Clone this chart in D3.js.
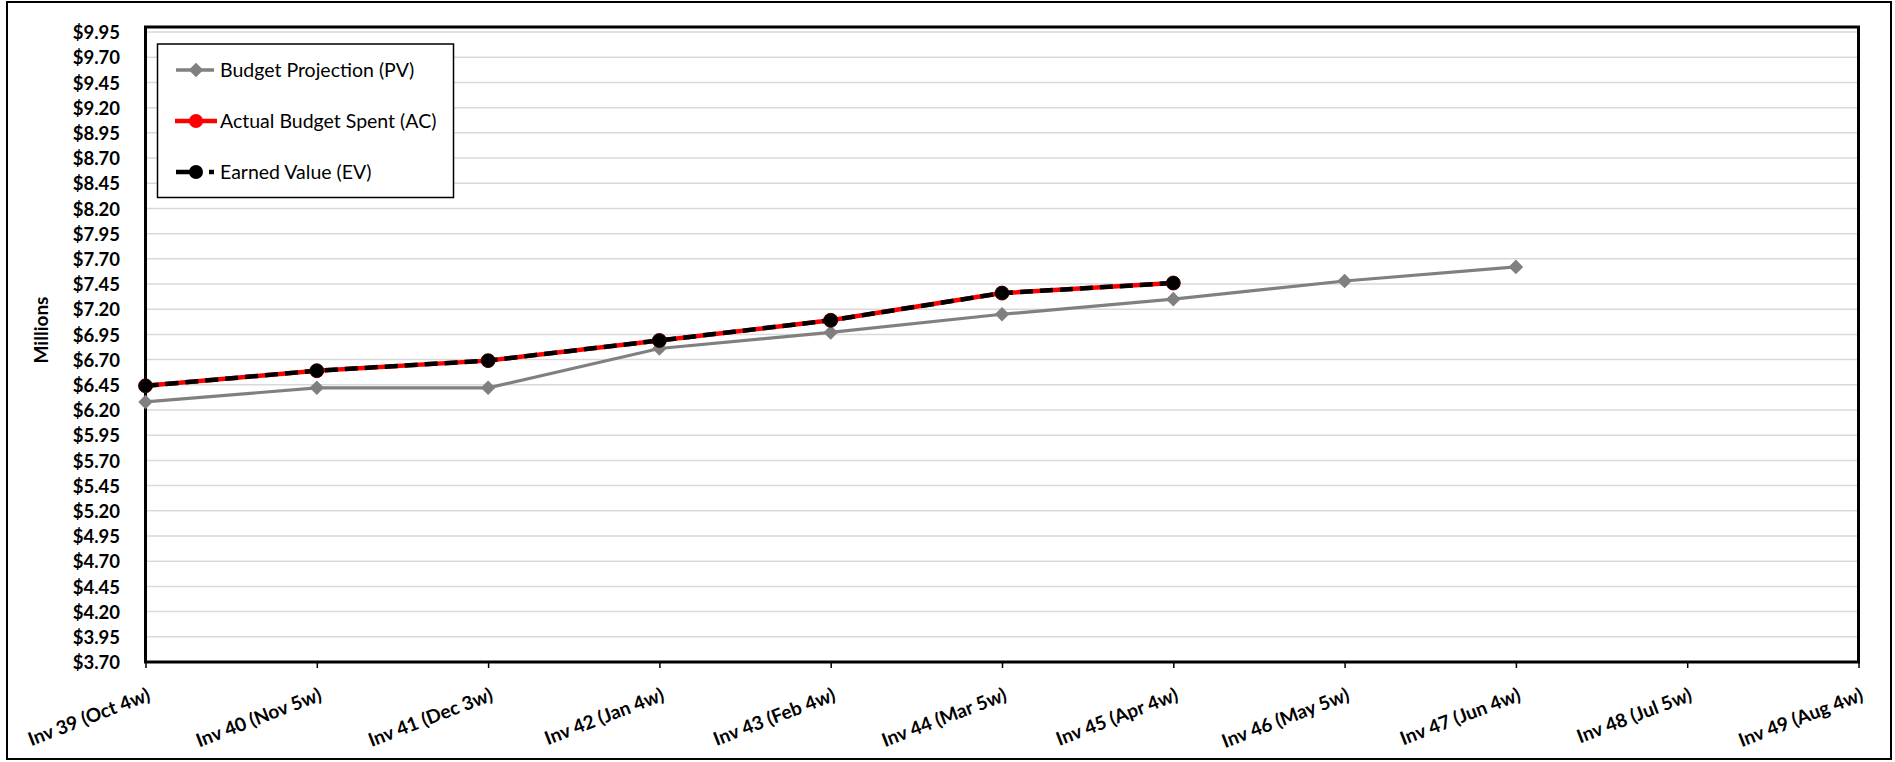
<!DOCTYPE html>
<html>
<head>
<meta charset="utf-8">
<script src="https://cdn.jsdelivr.net/npm/d3@7"></script>
<style>
  html, body { margin: 0; padding: 0; background: #fff; }
  svg { display: block; }
  text { font-family: Lato, "Open Sans", sans-serif; }
</style>
</head>
<body>
<svg id="chart" width="1895" height="762"></svg>
<script>
// ---- data ----
const categories = ["Inv 39 (Oct 4w)", "Inv 40 (Nov 5w)", "Inv 41 (Dec 3w)", "Inv 42 (Jan 4w)",
  "Inv 43 (Feb 4w)", "Inv 44 (Mar 5w)", "Inv 45 (Apr 4w)", "Inv 46 (May 5w)",
  "Inv 47 (Jun 4w)", "Inv 48 (Jul 5w)", "Inv 49 (Aug 4w)"];
const pvValues = [6.28, 6.42, 6.42, 6.81, 6.97, 7.15, 7.30, 7.48, 7.62];
const acValues = [6.44, 6.59, 6.69, 6.89, 7.09, 7.36, 7.46];
const evValues = [6.44, 6.59, 6.69, 6.89, 7.09, 7.36, 7.46];
const yTickValues = [3.70, 3.95, 4.20, 4.45, 4.70, 4.95, 5.20, 5.45, 5.70, 5.95, 6.20, 6.45,
  6.70, 6.95, 7.20, 7.45, 7.70, 7.95, 8.20, 8.45, 8.70, 8.95, 9.20, 9.45, 9.70, 9.95];
const yDomain = [3.70, 10.0];
const seriesNames = ["Budget Projection (PV)", "Actual Budget Spent (AC)", "Earned Value (EV)"];
const yTitle = "Millions";

// ---- layout ----
const svg = d3.select("#chart");
const plot = { left: 145.5, right: 1858.5, top: 27, bottom: 662 };

const x = d3.scalePoint().domain(categories).range([plot.left, plot.right]).padding(0);
const y = d3.scaleLinear().domain(yDomain).range([plot.bottom, plot.top]);

// outer frame
svg.append("rect").attr("x", 7).attr("y", 2).attr("width", 1884).attr("height", 757)
  .attr("fill", "#fff").attr("stroke", "#000").attr("stroke-width", 2);

// gridlines
svg.append("g").selectAll("line").data(yTickValues.slice(1)).join("line")
  .attr("x1", plot.left).attr("x2", plot.right)
  .attr("y1", d => y(d)).attr("y2", d => y(d))
  .attr("stroke", "#d9d9d9").attr("stroke-width", 1.5);

// y axis labels
const yAxis = d3.axisLeft(y).tickValues(yTickValues).tickSize(0).tickPadding(0)
  .tickFormat(d => "$" + d3.format(".2f")(d));
const gy = svg.append("g").attr("transform", `translate(120,0)`).call(yAxis);
gy.select(".domain").remove();
gy.selectAll("text").attr("font-family", "Lato, 'Open Sans', sans-serif")
  .attr("font-size", 18.5).attr("font-weight", "bold").attr("fill", "#000").attr("dy", "0.36em");

// y title
svg.append("text").attr("transform", "translate(48,330) rotate(-90)")
  .attr("text-anchor", "middle").attr("font-size", 19).attr("font-weight", "bold")
  .text(yTitle);

// x axis ticks & labels
const xAxis = d3.axisBottom(x).tickSize(6).tickPadding(0);
const gx = svg.append("g").attr("transform", `translate(0,${plot.bottom})`).call(xAxis);
gx.select(".domain").remove();
gx.selectAll(".tick line").attr("stroke", "#000").attr("stroke-width", 1.5);
gx.selectAll(".tick text")
  .attr("font-family", "Lato, 'Open Sans', sans-serif")
  .attr("font-size", 19).attr("font-weight", "bold").attr("fill", "#000")
  .attr("text-anchor", "end").attr("y", 0).attr("dy", 0)
  .attr("transform", "translate(5.5,38) rotate(-21)");

// plot border
svg.append("rect").attr("x", plot.left).attr("y", plot.top)
  .attr("width", plot.right - plot.left).attr("height", plot.bottom - plot.top)
  .attr("fill", "none").attr("stroke", "#000").attr("stroke-width", 3);

const line = d3.line().x((d, i) => x(categories[i])).y(d => y(d));

// PV
svg.append("path").datum(pvValues).attr("d", line)
  .attr("fill", "none").attr("stroke", "#808080").attr("stroke-width", 3.2);
const diamond = d3.symbol().type(d3.symbolDiamond2).size(135);
svg.append("g").selectAll("path").data(pvValues).join("path")
  .attr("d", diamond)
  .attr("transform", (d, i) => `translate(${x(categories[i])},${y(d)})`)
  .attr("fill", "#808080");

// AC
svg.append("path").datum(acValues).attr("d", line)
  .attr("fill", "none").attr("stroke", "#ff0000").attr("stroke-width", 4.5);
svg.append("g").selectAll("circle").data(acValues).join("circle")
  .attr("cx", (d, i) => x(categories[i])).attr("cy", d => y(d)).attr("r", 7)
  .attr("fill", "#ff0000");

// EV
svg.append("path").datum(evValues).attr("d", line)
  .attr("fill", "none").attr("stroke", "#000").attr("stroke-width", 4.5)
  .attr("stroke-dasharray", "13,7");
svg.append("g").selectAll("circle").data(evValues).join("circle")
  .attr("cx", (d, i) => x(categories[i])).attr("cy", d => y(d)).attr("r", 7)
  .attr("fill", "#000").attr("stroke", "#400000").attr("stroke-width", 0.8);

// legend
const lg = svg.append("g");
lg.append("rect").attr("x", 157.5).attr("y", 44).attr("width", 296).attr("height", 153.5)
  .attr("fill", "#fff").attr("stroke", "#000").attr("stroke-width", 1.5);
const ly = [70, 121, 172];
const lx0 = 176, lx1 = 214, lmx = 196;
// PV
lg.append("line").attr("x1", lx0).attr("x2", lx1).attr("y1", ly[0]).attr("y2", ly[0])
  .attr("stroke", "#808080").attr("stroke-width", 3.5);
lg.append("path").attr("d", diamond).attr("transform", `translate(${lmx},${ly[0]})`)
  .attr("fill", "#808080");
// AC
lg.append("line").attr("x1", lx0 - 1).attr("x2", lx1 + 3).attr("y1", ly[1]).attr("y2", ly[1])
  .attr("stroke", "#ff0000").attr("stroke-width", 4.5);
lg.append("circle").attr("cx", lmx).attr("cy", ly[1]).attr("r", 7).attr("fill", "#ff0000");
// EV
lg.append("line").attr("x1", lx0).attr("x2", lx1).attr("y1", ly[2]).attr("y2", ly[2])
  .attr("stroke", "#000").attr("stroke-width", 4.5).attr("stroke-dasharray", "20,13");
lg.append("circle").attr("cx", lmx).attr("cy", ly[2]).attr("r", 7).attr("fill", "#000");
lg.selectAll("text.lt").data(seriesNames).join("text").attr("class", "lt")
  .attr("x", 220).attr("y", (d, i) => ly[i]).attr("dy", "0.36em")
  .attr("font-size", 19.5).attr("fill", "#000").text(d => d);
</script>
</body>
</html>
